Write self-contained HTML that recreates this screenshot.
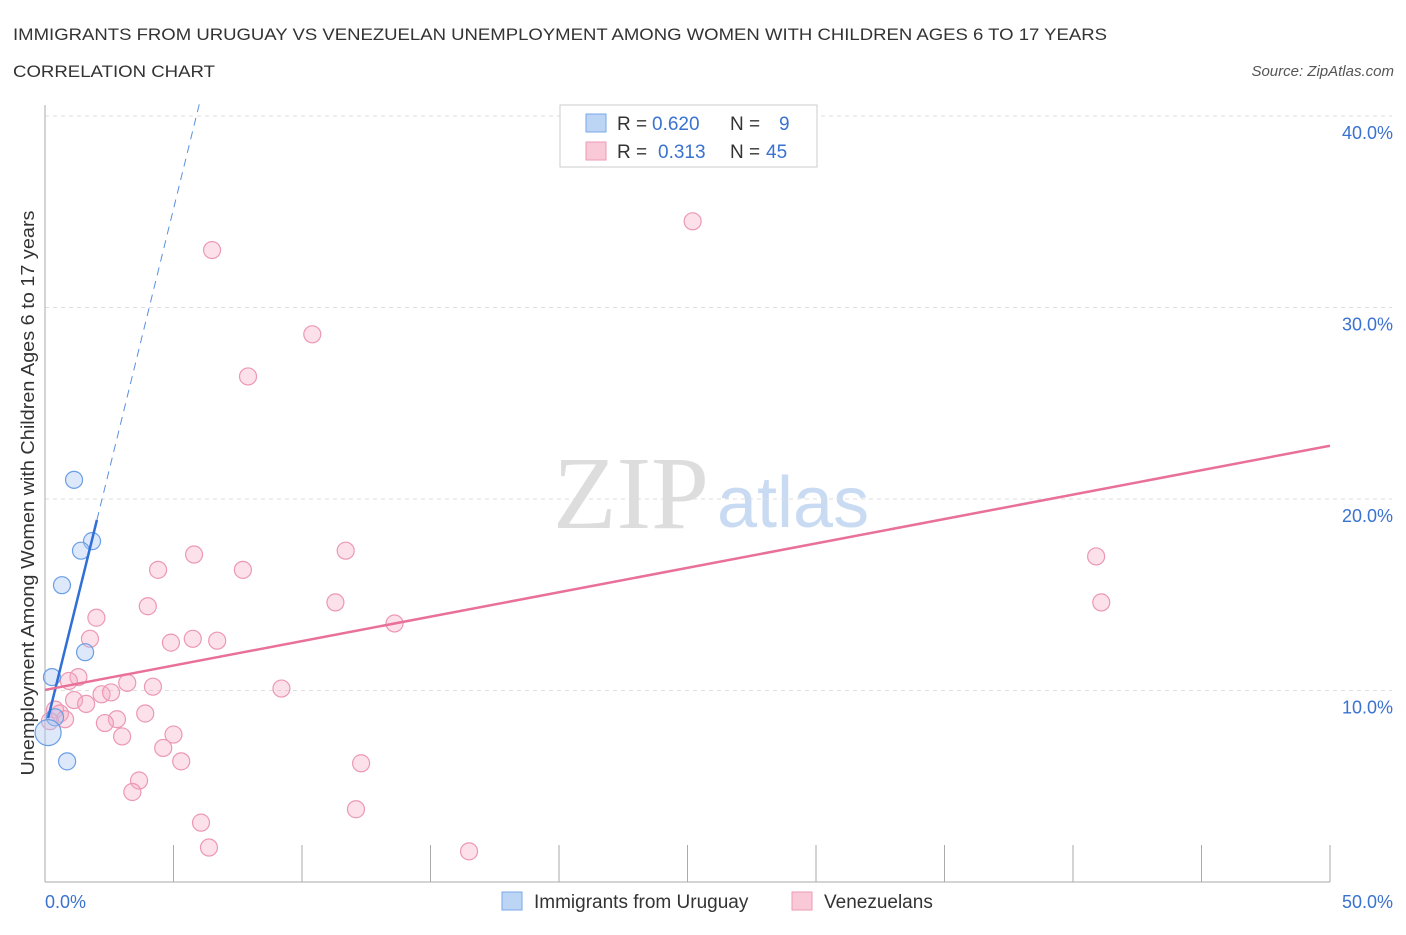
<!DOCTYPE html>
<html><head><meta charset="utf-8"><style>
body{margin:0;background:#fff;font-family:"Liberation Sans",sans-serif;}
</style></head><body>
<svg id="chart" width="1406" height="930" xmlns="http://www.w3.org/2000/svg" font-family="Liberation Sans, sans-serif">
<text x="13" y="40" font-size="17" fill="#333" textLength="1094" lengthAdjust="spacingAndGlyphs">IMMIGRANTS FROM URUGUAY VS VENEZUELAN UNEMPLOYMENT AMONG WOMEN WITH CHILDREN AGES 6 TO 17 YEARS</text>
<text x="13" y="77" font-size="17" fill="#333" textLength="202" lengthAdjust="spacingAndGlyphs">CORRELATION CHART</text>
<text x="1394" y="76" font-size="15" fill="#555" text-anchor="end" font-style="italic">Source: ZipAtlas.com</text>
<text x="553" y="528" font-size="104" fill="#ddd" font-family="Liberation Serif, serif">ZIP</text>
<text x="717" y="527" font-size="72" fill="#c9dbf2">atlas</text>
<g id="grid"></g><g id="pts"></g><g id="lines"></g>
<text transform="translate(34,493) rotate(-90)" font-size="18" fill="#333" text-anchor="middle" textLength="565" lengthAdjust="spacingAndGlyphs">Unemployment Among Women with Children Ages 6 to 17 years</text>
<g>
<rect x="560" y="105" width="257" height="62" fill="#fff" stroke="#ccc"/>
<rect x="586" y="114" width="20" height="18" fill="#bcd5f5" stroke="#7aa8e8"/>
<rect x="586" y="142" width="20" height="18" fill="#f9c9d7" stroke="#ee9ab4"/>
<text y="130" font-size="19" fill="#333"><tspan x="617">R =</tspan><tspan x="652" fill="#3a72d0">0.620</tspan><tspan x="730">N =</tspan><tspan x="779" fill="#3a72d0">9</tspan></text>
<text y="158" font-size="19" fill="#333"><tspan x="617">R =</tspan><tspan x="658" fill="#3a72d0">0.313</tspan><tspan x="730">N =</tspan><tspan x="766" fill="#3a72d0">45</tspan></text>
</g>
<g>
<rect x="502" y="892" width="20" height="18" fill="#bcd5f5" stroke="#7aa8e8"/>
<text x="534" y="908" font-size="19" fill="#333">Immigrants from Uruguay</text>
<rect x="792" y="892" width="20" height="18" fill="#f9c9d7" stroke="#ee9ab4"/>
<text x="824" y="908" font-size="19" fill="#333">Venezuelans</text>
</g>
</svg>
<script>
const yTicks=[10,20,30,40];
const yTickLabels=["10.0%","20.0%","30.0%","40.0%"];
const xTickLabels=["0.0%","50.0%"];
const uruguayX=[1.13,1.83,1.40,0.66,1.56,0.27,0.39,0.86,0.12];
const uruguayY=[21.0,17.8,17.3,15.5,12.0,10.7,8.6,6.3,7.8];
const venX=[6.5,25.2,10.4,7.9,40.9,41.1,11.7,5.8,4.4,7.7,4.0,11.3,2.0,13.6,1.75,4.9,5.75,6.7,1.3,0.93,3.2,4.2,9.2,2.2,2.57,1.13,1.6,0.39,0.58,0.78,3.9,2.8,2.33,0.19,3.0,5.0,4.6,5.3,12.3,3.66,3.4,12.1,6.07,6.38,16.5];
const venY=[33.0,34.5,28.6,26.4,17.0,14.6,17.3,17.1,16.3,16.3,14.4,14.6,13.8,13.5,12.7,12.5,12.7,12.6,10.7,10.5,10.4,10.2,10.1,9.8,9.9,9.5,9.3,9.0,8.8,8.5,8.8,8.5,8.3,8.4,7.6,7.7,7.0,6.3,6.2,5.3,4.7,3.8,3.1,1.8,1.6];
const uruguayLine=[7.9,5.45];
const venLine=[10.03,0.255];
const X=v=>45+v*25.7, Y=v=>882-v*19.15;
const NS='http://www.w3.org/2000/svg';
function mk(tag,attrs,parent){const e=document.createElementNS(NS,tag);for(const k in attrs)e.setAttribute(k,attrs[k]);document.getElementById(parent).appendChild(e);return e;}
yTicks.forEach((t,i)=>{
 const g=mk('line',{x1:45,x2:1392,y1:Y(t),y2:Y(t),stroke:'#ddd','stroke-dasharray':'4,4'},'grid');
 
 
 const l=mk('text',{x:1393,y:Y(t)+23,'font-size':18,fill:'#3a72d0','text-anchor':'end'},'grid');l.textContent=yTickLabels[i];
 
 
});
const ax=mk('line',{x1:45,x2:1330,y1:882,y2:882,stroke:'#aaa'},'grid');


const ay=mk('line',{x1:45,x2:45,y1:105,y2:882,stroke:'#aaa'},'grid');


for(let i=0;i<=10;i++){const t=mk('line',{x1:X(i*5),x2:X(i*5),y1:845,y2:882,stroke:'#aaa'},'grid');
 
 }
xTickLabels.forEach((s,i)=>{const l=mk('text',{x:i?1393:45,y:908,'font-size':18,fill:'#3a72d0','text-anchor':i?'end':'start'},'grid');l.textContent=s;
 
 });
venX.forEach((x,i)=>{const c=mk('circle',{cx:X(x),cy:Y(venY[i]),r:8.5,fill:'rgba(246,170,195,0.35)',stroke:'#ec98b3','stroke-width':1.2},'pts');
 
 });
uruguayX.forEach((x,i)=>{const c=mk('circle',{cx:X(x),cy:Y(uruguayY[i]),r:i==8?13:8.5,fill:'rgba(170,200,245,0.4)',stroke:'#6a9ee6','stroke-width':1.2},'pts');
 
 });
const ux0=0.12,ux1=2.02,ux2=6.03;
const u1=mk('line',{x1:X(ux0),y1:Y(uruguayLine[0]+uruguayLine[1]*ux0),x2:X(ux1),y2:Y(uruguayLine[0]+uruguayLine[1]*ux1),stroke:'#2f6fd6','stroke-width':2.5},'lines');


const u2=mk('line',{x1:X(ux1),y1:Y(uruguayLine[0]+uruguayLine[1]*ux1),x2:X(ux2),y2:Y(uruguayLine[0]+uruguayLine[1]*ux2),stroke:'#5a8fe0','stroke-width':1,'stroke-dasharray':'8,6'},'lines');


const v1=mk('line',{x1:X(0),y1:Y(venLine[0]),x2:X(50),y2:Y(venLine[0]+venLine[1]*50),stroke:'#e8709a','stroke-width':2.5},'lines');


</script>
</body></html>
